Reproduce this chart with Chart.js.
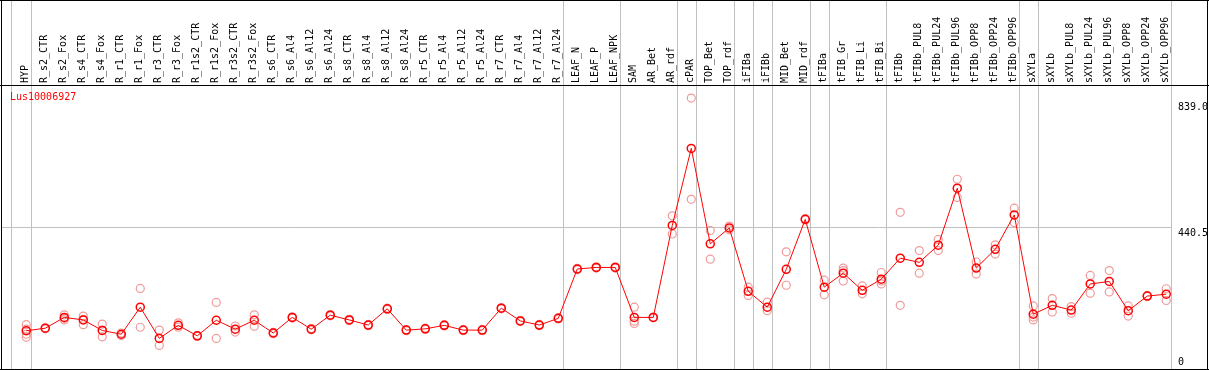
<!DOCTYPE html>
<html>
<head>
<meta charset="utf-8">
<script src="https://cdn.jsdelivr.net/npm/chart.js@4.4.1/dist/chart.umd.min.js"></script>
<style>
  html, body { margin: 0; padding: 0; background: #fff; overflow: hidden; }
  #chart { display: block; }
</style>
</head>
<body>
<canvas id="chart" width="1209" height="370"></canvas>
<script>
// Expression profile data
const geneName = 'Lus10006927';

const samples = [
    'HYP', 'R_s2_CTR', 'R_s2_Fox', 'R_s4_CTR', 'R_s4_Fox', 'R_r1_CTR', 'R_r1_Fox', 'R_r3_CTR', 'R_r3_Fox',
    'R_r1s2_CTR', 'R_r1s2_Fox', 'R_r3s2_CTR', 'R_r3s2_Fox', 'R_s6_CTR', 'R_s6_Al4', 'R_s6_Al12', 'R_s6_Al24',
    'R_s8_CTR', 'R_s8_Al4', 'R_s8_Al12', 'R_s8_Al24', 'R_r5_CTR', 'R_r5_Al4', 'R_r5_Al12', 'R_r5_Al24',
    'R_r7_CTR', 'R_r7_Al4', 'R_r7_Al12', 'R_r7_Al24', 'LEAF_N', 'LEAF_P', 'LEAF_NPK', 'SAM', 'AR_Bet', 'AR_rdf',
    'cPAR', 'TOP_Bet', 'TOP_rdf', 'iFIBa', 'iFIBb', 'MID_Bet', 'MID_rdf', 'tFIBa', 'tFIB_Gr', 'tFIB_Li', 'tFIB_Bi',
    'tFIBb', 'tFIBb_PUL8', 'tFIBb_PUL24', 'tFIBb_PUL96', 'tFIBb_OPP8', 'tFIBb_OPP24', 'tFIBb_OPP96',
    'sXYLa', 'sXYLb', 'sXYLb_PUL8', 'sXYLb_PUL24', 'sXYLb_PUL96', 'sXYLb_OPP8', 'sXYLb_OPP24', 'sXYLb_OPP96'
];

const meanValues = [
    117, 125, 159, 151, 118, 106, 191, 93, 134,
    101, 150, 122, 150, 110, 159, 122, 166,
    151, 135, 186, 119, 123, 134, 119, 119,
    188, 148, 135, 156, 311, 316, 316, 159, 159, 448,
    690, 390, 440, 241, 191, 310, 467, 254, 298, 244, 279,
    345, 332, 386, 565, 314, 373, 481,
    169, 197, 182, 264, 272, 180, 226, 232
];

const replicateValues = [
    [136, 122, 106, 97], [126, 123], [167, 156, 151], [163, 153, 136], [138, 98, 119], [110, 102], [250, 128], [119, 71], [142, 128],
    [102, 99], [206, 93], [132, 113], [167, 131], [112, 108], [161, 157], [124, 120], [168, 164],
    [153, 149], [137, 133], [188, 184], [121, 117], [125, 121], [136, 132], [121, 117], [121, 117],
    [190, 186], [150, 146], [137, 133], [158, 154], [313, 309], [318, 314], [318, 314], [191, 140, 147], [160, 158], [478, 421],
    [848, 530], [432, 342], [446, 434], [254, 228], [207, 180], [365, 260], [469, 465], [276, 230], [314, 306, 273], [258, 233], [300, 264, 273],
    [489, 197], [369, 298], [404, 369], [593, 536], [333, 295], [387, 358], [502, 457],
    [195, 151, 160], [218, 176], [193, 172], [291, 235], [306, 239], [195, 163], [228, 225], [249, 212]
];

// last sample of each tissue group (a gray rule follows it)
const groupEnds = ['HYP', 'R_r7_Al24', 'LEAF_NPK', 'AR_rdf', 'cPAR', 'TOP_rdf', 'iFIBa', 'iFIBb',
    'MID_rdf', 'tFIBa', 'tFIB_Bi', 'tFIBb_OPP96', 'sXYLa', 'sXYLb_OPP96'];

const yTicks = [0, 440.5, 839.0];

const meanPoints = meanValues.map((v, i) => ({ x: i, y: v }));
const replicatePoints = [];
replicateValues.forEach((reps, i) => reps.forEach(v => replicatePoints.push({ x: i, y: v })));

const separators = [-0.8].concat(groupEnds.map(n => samples.indexOf(n) + 0.25));

const monoFont = { family: "'DejaVu Sans Mono', monospace", size: 10 };

// Frame, group rules and gene name
const framePlugin = {
    id: 'frame',
    beforeDatasetsDraw(chart) {
        const c = chart.ctx;
        const xScale = chart.scales.x;
        const area = chart.chartArea;
        c.save();
        c.fillStyle = '#c0c0c0';
        separators.forEach(s => {
            const px = Math.floor(xScale.getPixelForValue(s));
            c.fillRect(px, 0, 1, chart.height);
        });
        c.fillStyle = '#000';
        c.fillRect(0, area.top - 1, chart.width, 1);
        c.fillRect(0, 0, chart.width, 1);
        c.fillRect(0, chart.height - 1, chart.width, 1);
        c.fillRect(1, 0, 1, chart.height);
        c.fillRect(chart.width - 2, 0, 1, chart.height);
        c.fillStyle = '#ff0000';
        c.font = "10px 'DejaVu Sans Mono', monospace";
        c.textBaseline = 'middle';
        c.textAlign = 'left';
        c.fillText(geneName, 10, 97);
        c.restore();
    }
};

const ctx = document.getElementById('chart').getContext('2d');

new Chart(ctx, {
    type: 'line',
    data: {
        datasets: [
            {
                label: 'mean',
                data: meanPoints,
                borderColor: '#ff0000',
                borderWidth: 1,
                pointStyle: 'circle',
                pointRadius: 4,
                pointBorderWidth: 1.5,
                pointBorderColor: '#ff0000',
                pointBackgroundColor: 'rgba(0,0,0,0)',
                tension: 0,
                order: 0
            },
            {
                label: 'replicates',
                data: replicatePoints,
                showLine: false,
                pointStyle: 'circle',
                pointRadius: 4,
                pointBorderWidth: 1.2,
                pointBorderColor: '#f09a9a',
                pointBackgroundColor: 'rgba(0,0,0,0)',
                order: 1
            }
        ]
    },
    options: {
        responsive: false,
        animation: false,
        layout: { autoPadding: false, padding: { left: 1, right: 0, top: 0, bottom: 2 } },
        plugins: {
            legend: { display: false },
            tooltip: { enabled: false }
        },
        scales: {
            x: {
                type: 'linear',
                position: 'top',
                min: -1.33,
                max: 60.25,
                afterBuildTicks: s => { s.ticks = samples.map((_, i) => ({ value: i })); },
                afterFit: s => { s.height = 86; s.paddingLeft = 0; s.paddingRight = 0; },
                grid: { display: false, drawTicks: false },
                border: { display: false },
                ticks: {
                    autoSkip: false,
                    minRotation: 90,
                    maxRotation: 90,
                    padding: 3,
                    labelOffset: 11,
                    color: '#000',
                    font: monoFont,
                    callback: v => samples[v]
                }
            },
            y: {
                type: 'linear',
                position: 'right',
                min: 0,
                max: 886,
                afterBuildTicks: s => { s.ticks = yTicks.map(v => ({ value: v })); },
                afterFit: s => { s.width = 38; s.paddingTop = 0; s.paddingBottom = 0; },
                grid: {
                    drawTicks: false,
                    color: c => (c.tick && c.tick.value === 440.5) ? '#c0c0c0' : 'rgba(0,0,0,0)'
                },
                border: { display: false },
                ticks: {
                    padding: 7,
                    color: '#000',
                    font: monoFont,
                    // two-line labels push the text below (or above, for 0) the tick
                    callback: v => v === 0 ? ['0', ''] : ['', v.toFixed(1)]
                }
            }
        }
    },
    plugins: [framePlugin]
});
</script>
</body>
</html>
